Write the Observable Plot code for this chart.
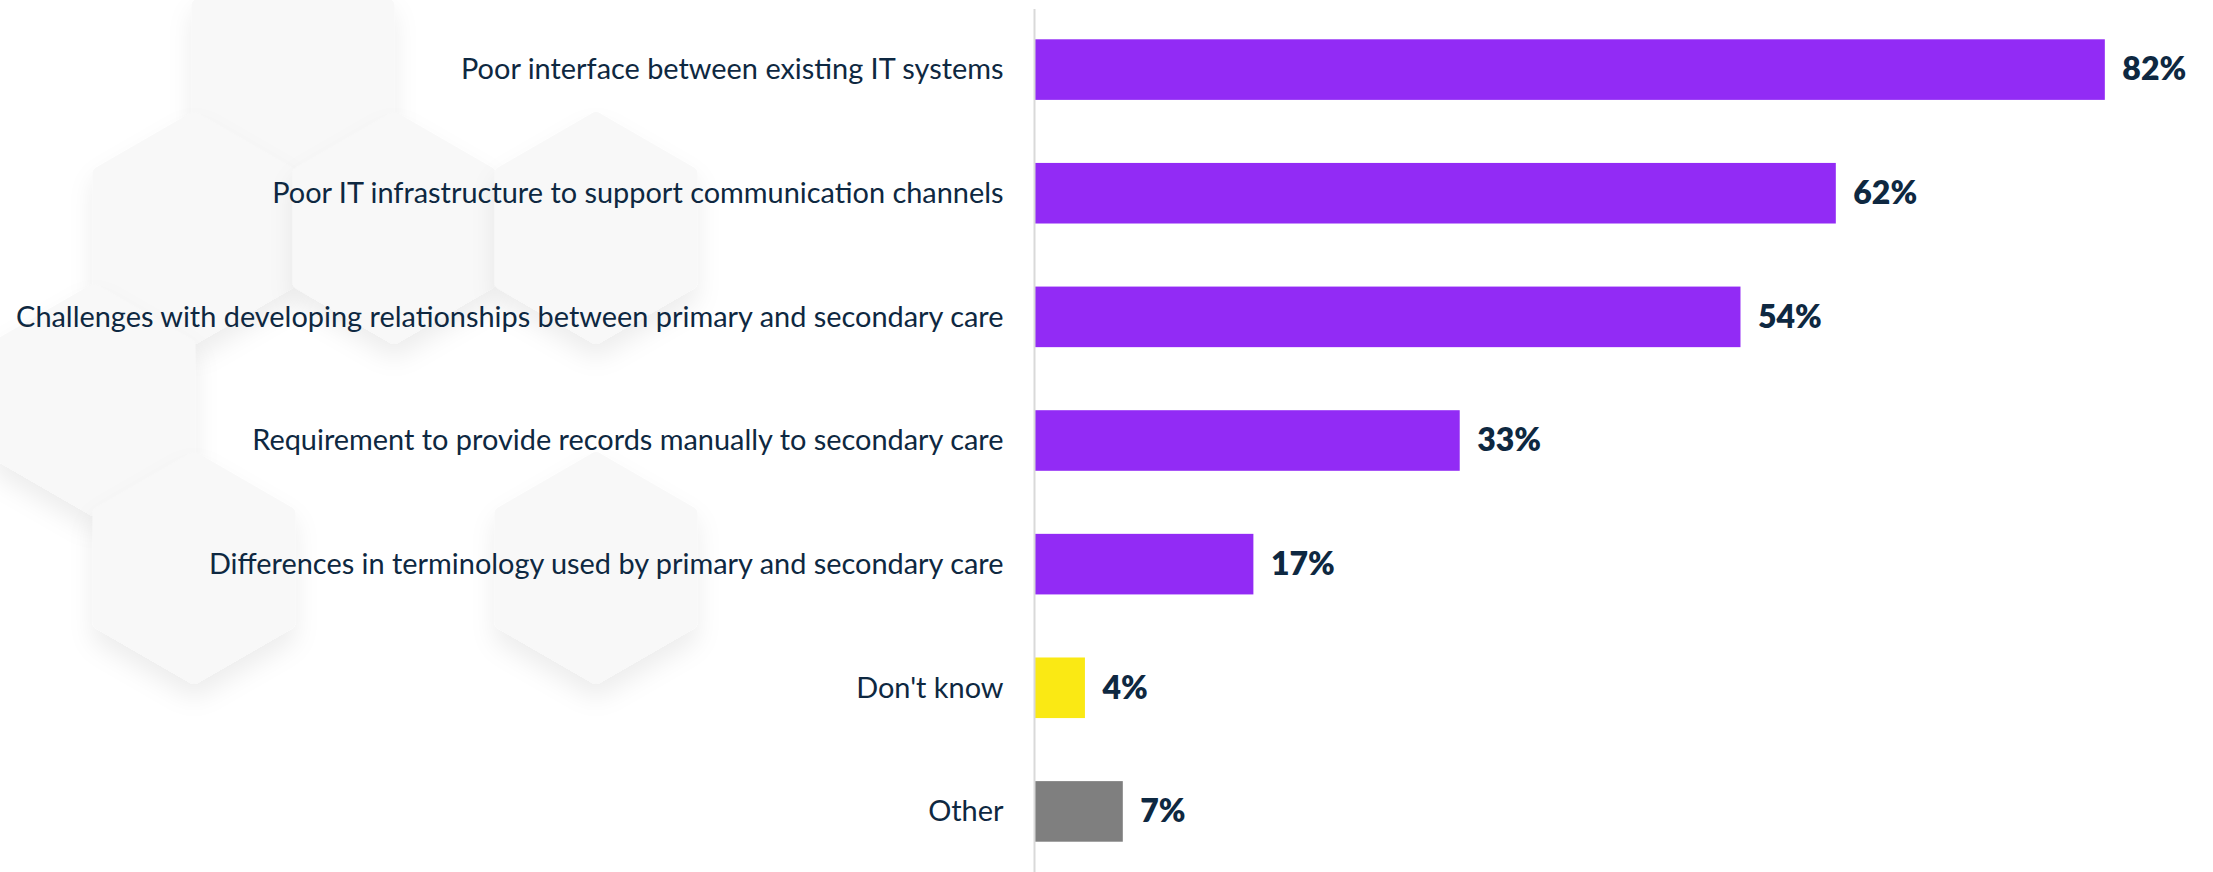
<!DOCTYPE html>
<html>
<head>
<meta charset="utf-8">
<script src="https://cdn.jsdelivr.net/npm/d3@7"></script>
<script src="https://cdn.jsdelivr.net/npm/@observablehq/plot@0.6"></script>
<style>
  html, body { margin: 0; padding: 0; background: #ffffff; }
  #wrap { position: relative; width: 2213px; height: 872px; overflow: hidden; }
  #deco { position: absolute; left: 0; top: 0; }
  #chart { position: absolute; left: 0; top: 0; }
  #chart svg { background: transparent !important; }
</style>
</head>
<body>
<div id="wrap">
  <svg id="deco" width="2213" height="872"></svg>
  <div id="chart"></div>
</div>
<script>
// ---- data ----
const categories = [
  "Poor interface between existing IT systems",
  "Poor IT infrastructure to support communication channels",
  "Challenges with developing relationships between primary and secondary care",
  "Requirement to provide records manually to secondary care",
  "Differences in terminology used by primary and secondary care",
  "Don't know",
  "Other"
];
// bar lengths (%)
const values = [82, 61.4, 54.1, 32.6, 16.8, 3.9, 6.8];
// printed value labels
const valueLabels = ["82%", "62%", "54%", "33%", "17%", "4%", "7%"];
const groups = ["main", "main", "main", "main", "main", "dk", "other"];

const groupColors = { main: "#922BF5", dk: "#FAE914", other: "#7F7F7F" };

const data = categories.map((c, i) => ({ label: c, value: values[i], text: valueLabels[i], group: groups[i] }));

// ---- decorative hexagon background ----
(function () {
  const deco = d3.select("#deco");
  const defs = deco.append("defs");
  const f = defs.append("filter").attr("id", "sh").attr("x", "-30%").attr("y", "-30%").attr("width", "160%").attr("height", "170%");
  f.append("feDropShadow").attr("dx", 0).attr("dy", 14).attr("stdDeviation", 12)
    .attr("flood-color", "#000").attr("flood-opacity", 0.07);
  const hexCenters = [[293, 60], [194, 228], [394, 228], [596, 228], [94, 400], [194, 568], [596, 568]];
  const w = 189, h = 218;
  const hex = ([cx, cy]) => {
    const pts = [
      [cx, cy - h / 2], [cx + w / 2, cy - h / 4], [cx + w / 2, cy + h / 4],
      [cx, cy + h / 2], [cx - w / 2, cy + h / 4], [cx - w / 2, cy - h / 4]
    ];
    return pts.map(p => p.join(",")).join(" ");
  };
  deco.selectAll("polygon").data(hexCenters).join("polygon")
    .attr("points", hex)
    .attr("fill", "#f8f8f8")
    .attr("stroke", "#f8f8f8")
    .attr("stroke-width", 14)
    .attr("stroke-linejoin", "round")
    .attr("filter", "url(#sh)");
})();

// ---- chart ----
const chart = Plot.plot({
  width: 2213,
  height: 872,
  marginLeft: 1034,
  marginRight: 69,
  marginTop: 9,
  marginBottom: 0,
  style: { fontFamily: "Lato, 'Open Sans', sans-serif", background: "transparent" },
  x: { domain: [0, 85], axis: null },
  y: { domain: categories, paddingInner: 0.51, paddingOuter: 0.245, round: false, label: null },
  marks: [
    Plot.barX(data, {
      x: "value",
      y: "label",
      fill: d => groupColors[d.group]
    }),
    Plot.ruleX([0], { stroke: "#d9d9d9", strokeWidth: 2 }),
    Plot.axisY({
      tickSize: 0,
      tickPadding: 31,
      fontSize: 28.9,
      fill: "#0E2841",
      label: null
    }),
    Plot.text(data, {
      x: "value",
      y: "label",
      text: "text",
      dx: 17,
      textAnchor: "start",
      fontSize: 32,
      fontWeight: 800,
      fill: "#0E2841"
    })
  ]
});
document.getElementById("chart").appendChild(chart);
</script>
</body>
</html>
